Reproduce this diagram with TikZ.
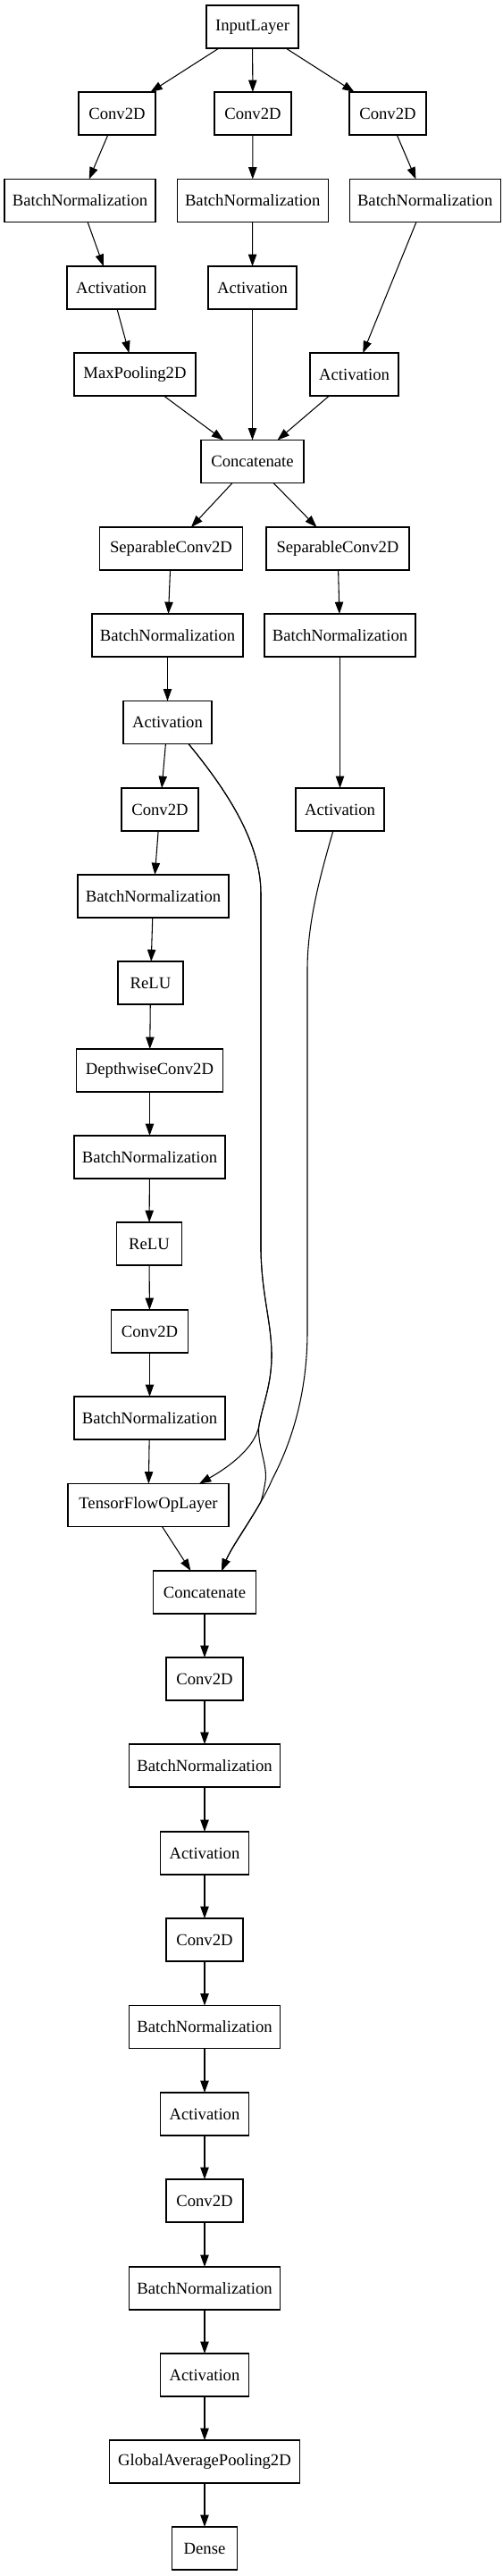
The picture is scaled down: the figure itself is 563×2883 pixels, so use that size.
\documentclass[tikz,border=0pt]{standalone}
\usepackage{fontspec}
\setmainfont{Liberation Serif}
\usetikzlibrary{arrows.meta,calc}
\begin{document}
\begin{tikzpicture}[x=0.75pt,y=-0.75pt,
  layer/.style={draw=black, line width=1pt, minimum height=36pt, inner sep=0pt, outer sep=0pt, font=\fontsize{14}{16}\selectfont, anchor=center},
  wIn/.style={layer, minimum width=77.25pt},
  wConv/.style={layer, minimum width=64.5pt},
  wBN/.style={layer, minimum width=126.75pt},
  wAct/.style={layer, minimum width=74.25pt},
  wMP/.style={layer, minimum width=102pt},
  wCat/.style={layer, minimum width=86.25pt},
  wSep/.style={layer, minimum width=120pt},
  wRelu/.style={layer, minimum width=54.75pt},
  wDW/.style={layer, minimum width=122.6pt},
  wTF/.style={layer, minimum width=135pt},
  wGAP/.style={layer, minimum width=159.75pt},
  wDense/.style={layer, minimum width=54.4pt},
  edge/.style={line width=0.8pt, -{Triangle[length=10pt,width=7pt]}}]
\useasboundingbox (0,0) rectangle (563,2883);
% nodes
\node[wIn] (in) at (282.5,30) {InputLayer};
\node[wConv] (c1) at (131,127) {Conv2D};
\node[wConv] (c2) at (283,127) {Conv2D};
\node[wConv] (c3) at (434,127) {Conv2D};
\node[wBN] (b1) at (89.5,224.5) {BatchNormalization};
\node[wBN] (b2) at (282.7,224.5) {BatchNormalization};
\node[wBN] (b3) at (475.7,224.5) {BatchNormalization};
\node[wAct] (a1) at (124.5,322) {Activation};
\node[wAct] (a2) at (282.5,322) {Activation};
\node[wMP] (mp) at (151,419) {MaxPooling2D};
\node[wAct] (a3) at (396.5,419) {Activation};
\node[wCat] (cat1) at (282.5,516.5) {Concatenate};
\node[wSep] (s1) at (191.5,614) {SeparableConv2D};
\node[wSep] (s2) at (378,614) {SeparableConv2D};
\node[wBN] (b4) at (187.5,711) {BatchNormalization};
\node[wBN] (b5) at (380.5,711) {BatchNormalization};
\node[wAct] (a4) at (187.5,808.5) {Activation};
\node[wConv] (c4) at (179,906) {Conv2D};
\node[wAct] (a5) at (380.5,906) {Activation};
\node[wBN] (b6) at (171.5,1003) {BatchNormalization};
\node[wRelu] (r1) at (168.5,1100) {ReLU};
\node[wDW] (dw) at (167.5,1198) {DepthwiseConv2D};
\node[wBN] (b7) at (167.5,1295) {BatchNormalization};
\node[wRelu] (r2) at (167,1392) {ReLU};
\node[wConv] (c5) at (167.5,1490) {Conv2D};
\node[wBN] (b8) at (167.5,1587) {BatchNormalization};
\node[wTF] (tf) at (166,1684.5) {TensorFlowOpLayer};
\node[wCat] (cat2) at (229,1782) {Concatenate};
\node[wConv] (c6) at (229,1879) {Conv2D};
\node[wBN] (b9) at (229,1976) {BatchNormalization};
\node[wAct] (a6) at (229,2074) {Activation};
\node[wConv] (c7) at (229,2171) {Conv2D};
\node[wBN] (b10) at (229,2268.5) {BatchNormalization};
\node[wAct] (a7) at (229,2366) {Activation};
\node[wConv] (c8) at (229,2463) {Conv2D};
\node[wBN] (b11) at (229,2561) {BatchNormalization};
\node[wAct] (a8) at (229,2658) {Activation};
\node[wGAP] (gap) at (229,2755) {GlobalAveragePooling2D};
\node[wDense] (dense) at (229,2852) {Dense};
% straight edges
\draw[edge] (in) -- (c1);
\draw[edge] (in) -- (c2);
\draw[edge] (in) -- (c3);
\draw[edge] (c1) -- (b1);
\draw[edge] (c2) -- (b2);
\draw[edge] (c3) -- (b3);
\draw[edge] (b1) -- (a1);
\draw[edge] (b2) -- (a2);
\draw[edge] (b3) -- (a3);
\draw[edge] (a1) -- (mp);
\draw[edge] (a2) -- (cat1);
\draw[edge] (mp) -- (cat1);
\draw[edge] (a3) -- (cat1);
\draw[edge] (cat1) -- (s1);
\draw[edge] (cat1) -- (s2);
\draw[edge] (s1) -- (b4);
\draw[edge] (s2) -- (b5);
\draw[edge] (b4) -- (a4);
\draw[edge] (b5) -- (a5);
\draw[edge] (a4) -- (c4);
\draw[edge] (c4) -- (b6);
\draw[edge] (b6) -- (r1);
\draw[edge] (r1) -- (dw);
\draw[edge] (dw) -- (b7);
\draw[edge] (b7) -- (r2);
\draw[edge] (r2) -- (c5);
\draw[edge] (c5) -- (b8);
\draw[edge] (b8) -- (tf);
\draw[edge] (tf) -- (cat2);
\draw[edge] (cat2) -- (c6);
\draw[edge] (c6) -- (b9);
\draw[edge] (b9) -- (a6);
\draw[edge] (a6) -- (c7);
\draw[edge] (c7) -- (b10);
\draw[edge] (b10) -- (a7);
\draw[edge] (a7) -- (c8);
\draw[edge] (c8) -- (b11);
\draw[edge] (b11) -- (a8);
\draw[edge] (a8) -- (gap);
\draw[edge] (gap) -- (dense);
% long curved edges
\draw[edge] ($(a4.south)+(23.5,0)$) .. controls (250,880) and (292,940) .. (292,1000)
  -- (292,1400) .. controls (293,1450) and (304,1480) .. (304,1517)
  .. controls (304,1550) and (294,1572) .. (290,1595)
  .. controls (286,1620) and (256,1642) .. ($(tf.north)+(57,0)$);
\draw[edge] ($(a4.south)+(23.5,0)$) .. controls (250,880) and (292,940) .. (292,1000)
  -- (292,1400) .. controls (293,1450) and (304,1480) .. (304,1517)
  .. controls (304,1550) and (294,1572) .. (290,1595)
  .. controls (287,1615) and (300,1640) .. (297,1658)
  .. controls (295,1670) and (293,1678) .. (291.74,1681.22)
  .. controls (276.9,1707.4) and (258.5,1733.3) .. ($(cat2.north)+(19,0)$);
\draw[edge] ($(a5.south)+(-7.7,0)$) .. controls (360,975) and (344,1030) .. (344,1085)
  -- (344,1490) .. controls (344,1560) and (326,1615) .. (305,1655)
  .. controls (290,1690) and (262,1725) .. ($(cat2.north)+(19,0)$);
\end{tikzpicture}
\end{document}
